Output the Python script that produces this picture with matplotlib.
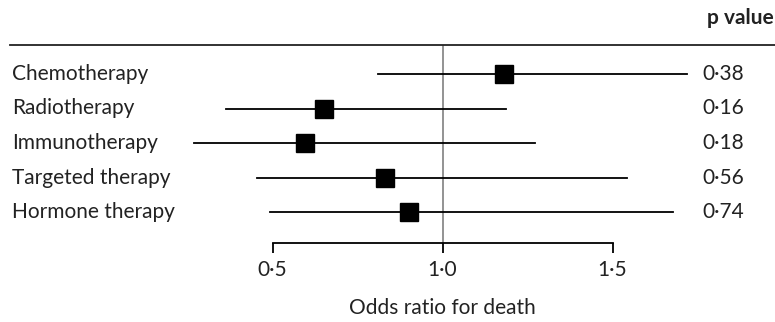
import matplotlib
matplotlib.use('Agg')
import matplotlib.pyplot as plt

# therapy rows, odds ratios with 95% CI, p values
therapies = ['Chemotherapy', 'Radiotherapy', 'Immunotherapy', 'Targeted therapy', 'Hormone therapy']
odds = [1.18, 0.65, 0.595, 0.83, 0.90]
ci_low = [0.81, 0.363, 0.27, 0.454, 0.493]
ci_high = [1.72, 1.186, 1.272, 1.544, 1.679]
pvals = ['0·38', '0·16', '0·18', '0·56', '0·74']
xticks = [0.5, 1.0, 1.5]
xticklabels = ['0·5', '1·0', '1·5']

plt.rcParams['font.family'] = ['Lato', 'DejaVu Sans']
txt = '#222222'
fs = 15

W, H = 775, 322
fig = plt.figure(figsize=(W / 100, H / 100), dpi=100)
top_px, bot_px = 45, 242.7
ax = fig.add_axes([0, 1 - bot_px / H, 1, (bot_px - top_px) / H])

# x mapping: 1.0 at pixel 442.5, 340 px per unit
x0 = 1 - 442.5 / 340
x1 = 1 + (W - 442.5) / 340
ax.set_xlim(x0, x1)
row0, step = 74, 34.5
ax.set_ylim((bot_px - row0) / step, (top_px - row0) / step)

ax.axvline(1.0, color='#8a8a8a', lw=1.3, zorder=1)

for i in range(len(therapies)):
    ax.plot([ci_low[i], ci_high[i]], [i, i], color='black', lw=1.3, zorder=2)
    ax.plot(odds[i], i, 's', color='black', ms=12.5, zorder=3)
    ax.text(12 / W, i, therapies[i], transform=ax.get_yaxis_transform(),
            ha='left', va='center', fontsize=fs, color=txt)
    ax.text(702 / W, i, pvals[i], transform=ax.get_yaxis_transform(),
            ha='left', va='center', fontsize=fs, color=txt)

ax.text(774 / W, (18 - row0) / step, 'p value', transform=ax.get_yaxis_transform(),
        ha='right', va='center', fontsize=fs, fontweight='bold', color=txt)

for s in ['left', 'right']:
    ax.spines[s].set_visible(False)
ax.spines['top'].set_bounds(x0 + 10 / 340, x1)
ax.spines['top'].set_color('#222222')
ax.spines['top'].set_linewidth(1.3)
ax.spines['bottom'].set_bounds(0.5, 1.5)
ax.spines['bottom'].set_linewidth(1.3)
ax.set_yticks([])
ax.set_xticks(xticks)
ax.set_xticklabels(xticklabels)
ax.tick_params(axis='x', length=7.5, width=1.3, pad=5, labelsize=fs, labelcolor=txt)

ax.text(1.0, -0.33, 'Odds ratio for death', transform=ax.get_xaxis_transform(),
        ha='center', va='center', fontsize=fs, color=txt)

fig.savefig('out.png', dpi=100)
